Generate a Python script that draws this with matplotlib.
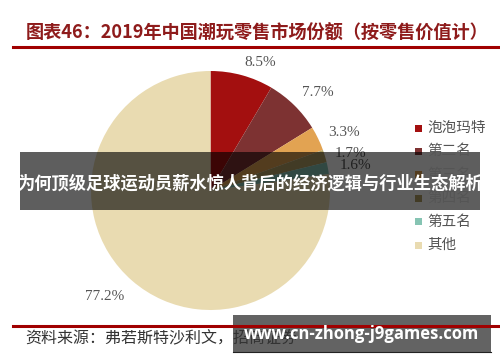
import math
import matplotlib
matplotlib.use("Agg")
import matplotlib.pyplot as plt
from matplotlib.patches import Rectangle
from matplotlib.lines import Line2D

plt.rcParams['font.family'] = ['Noto Sans CJK SC', 'DejaVu Sans']

categories = ['泡泡玛特', '第二名', '第三名', '第四名', '第五名', '其他']
shares = [8.5, 7.7, 3.3, 1.7, 1.6, 77.2]
colors = ['#A30F0F', '#7D3232', '#E2A352', '#B3A266', '#86C4B3', '#E9DBB1']
label_dist = [1.15, 1.214, 1.217, 1.209, 1.228, 1.258]
label_dtheta = [-5.7, -3.3, -2.4, -1.7, -0.8, -3.9]

title = '图表46：2019年中国潮玩零售市场份额（按零售价值计）'
source = '资料来源：弗若斯特沙利文，招商证券'
banner = '为何顶级足球运动员薪水惊人背后的经济逻辑与行业生态解析'
watermark = 'www.cn-zhong-j9games.com'

W, H = 500, 362
fig = plt.figure(figsize=(W / 100, H / 100), dpi=100)

def fx(x):
    return x / W

def fy(y):
    return 1 - y / H

# pie axes: center (210.5, 190.5), radius 119.5 px
ax = fig.add_axes([fx(91), fy(310), 239 / W, 239 / H])
wedges, _texts, autotexts = ax.pie(
    shares, colors=colors, startangle=90, counterclock=False,
    autopct='%.1f%%', pctdistance=1.22,
    wedgeprops=dict(linewidth=0),
    textprops=dict(fontsize=11, color='#555555', family=['Liberation Serif']))
for w, t, d, dt in zip(wedges, autotexts, label_dist, label_dtheta):
    th = math.radians((w.theta1 + w.theta2) / 2 + dt)
    t.set_position((d * math.cos(th), d * math.sin(th)))
ax.set_xlim(-1, 1)
ax.set_ylim(-1, 1)
ax.set_aspect('equal')
ax.axis('off')

# title and rules
fig.text(fx(26), fy(33), title, fontsize=13.1, fontweight='bold', color='#8E1B1B',
         ha='left', va='center')
fig.add_artist(Line2D([fx(13), fx(500)], [fy(47), fy(47)], color='#A00000', lw=2.2))
fig.add_artist(Line2D([fx(13), fx(500)], [fy(326), fy(326)], color='#A00000', lw=2.2))
fig.text(fx(25), fy(339), source, fontsize=11.5, color='#333333', ha='left', va='center')

# legend
leg_y0 = 128
leg_dy = 23.4
for i, name in enumerate(categories):
    y = leg_y0 + i * leg_dy
    fig.add_artist(Rectangle((fx(415), fy(y + 3.5)), 7 / W, 7 / H, facecolor=colors[i],
                             edgecolor='none', transform=fig.transFigure))
    fig.text(fx(427), fy(y), name, fontsize=10.5, color='#555555', ha='left', va='center')

# overlay banner
fig.add_artist(Rectangle((fx(20), fy(210)), 460 / W, 58 / H, facecolor='black',
                         alpha=0.63, edgecolor='none', transform=fig.transFigure))
fig.text(fx(250), fy(184), banner, fontsize=12.4, fontweight='bold', color='white',
         ha='center', va='center')

# watermark
fig.add_artist(Rectangle((fx(233), fy(352)), 258 / W, 37 / H, facecolor='#484848',
                         alpha=0.85, edgecolor='none', transform=fig.transFigure))
fig.add_artist(Line2D([fx(233), fx(491)], [fy(352), fy(352)], color='#222222', lw=0.8))
fig.text(fx(361.5), fy(334), watermark, fontsize=12, fontweight='bold', color='white',
         ha='center', va='center', family=['Open Sans', 'DejaVu Sans'])

fig.savefig('out.png', dpi=100)
